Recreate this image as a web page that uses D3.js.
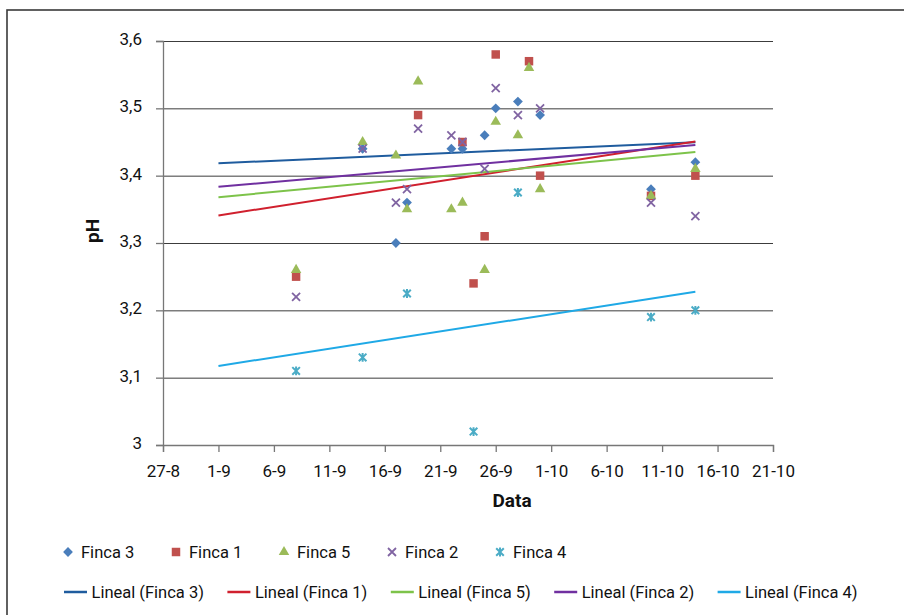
<!DOCTYPE html>
<html>
<head>
<meta charset="utf-8">
<script src="https://cdn.jsdelivr.net/npm/d3@7"></script>
<style>
  body{margin:0;background:#fff;}
  svg{display:block;}
  text{font-family:'Roboto',sans-serif;fill:#111;}
</style>
</head>
<body>
<div id="chart"></div>
<script>
// Scatter of pH per farm with linear trend lines
const xTickLabels = ['27-8','1-9','6-9','11-9','16-9','21-9','26-9','1-10','6-10','11-10','16-10','21-10'];
const yTicks = [3.0,3.1,3.2,3.3,3.4,3.5,3.6];

const finca3Dates = ['14-9','17-9','18-9','22-9','23-9','25-9','26-9','28-9','30-9','10-10','14-10'];
const finca3 = [3.44,3.30,3.36,3.44,3.44,3.46,3.50,3.51,3.49,3.38,3.42];
const finca1Dates = ['8-9','19-9','23-9','24-9','25-9','26-9','29-9','30-9','10-10','14-10'];
const finca1 = [3.25,3.49,3.45,3.24,3.31,3.58,3.57,3.40,3.37,3.40];
const finca5Dates = ['8-9','14-9','17-9','18-9','19-9','22-9','23-9','25-9','26-9','28-9','29-9','30-9','10-10','14-10'];
const finca5 = [3.26,3.45,3.43,3.35,3.54,3.35,3.36,3.26,3.48,3.46,3.56,3.38,3.37,3.41];
const finca2Dates = ['8-9','14-9','17-9','18-9','19-9','22-9','23-9','25-9','26-9','28-9','30-9','10-10','14-10'];
const finca2 = [3.22,3.44,3.36,3.38,3.47,3.46,3.45,3.41,3.53,3.49,3.50,3.36,3.34];
const finca4Dates = ['8-9','14-9','18-9','24-9','28-9','10-10','14-10'];
const finca4 = [3.11,3.13,3.225,3.02,3.375,3.19,3.20];

// trend lines (Lineal): value at first and last date
const trendDates = ['1-9','14-10'];
const trend3 = [3.4185,3.4497];
const trend1 = [3.341,3.4506];
const trend5 = [3.368,3.435];
const trend2 = [3.3834,3.4457];
const trend4 = [3.1174,3.2276];

(function() {
  const W = 904, H = 615;
  const m = {top:41,left:163,right:131,bottom:170};
  const w = W-m.left-m.right, h = H-m.top-m.bottom;
  const parse = s => { const [d,mo] = s.split('-').map(Number); return new Date(2011,mo-1,d); };

  const series = [
    {name:'Finca 3', dates:finca3Dates, vals:finca3, color:'#4a7ebb', shape:'diamond', trend:trend3, tcolor:'#1f5c9e'},
    {name:'Finca 1', dates:finca1Dates, vals:finca1, color:'#c0504d', shape:'square',  trend:trend1, tcolor:'#d0202e'},
    {name:'Finca 5', dates:finca5Dates, vals:finca5, color:'#9bbb59', shape:'triangle',trend:trend5, tcolor:'#7dc34a'},
    {name:'Finca 2', dates:finca2Dates, vals:finca2, color:'#8064a2', shape:'x',       trend:trend2, tcolor:'#7030a0'},
    {name:'Finca 4', dates:finca4Dates, vals:finca4, color:'#4bacc6', shape:'star',    trend:trend4, tcolor:'#1fa9e6'}
  ];

  const ticks = xTickLabels.map(parse);
  const xSc = d3.scaleTime().domain([ticks[0],ticks[ticks.length-1]]).range([0,w]);
  const ySc = d3.scaleLinear().domain([3.0,3.6]).range([h,0]);
  const fmt = v => d3.format('.1f')(v).replace('.0','').replace('.',',');

  const svg = d3.select('#chart').append('svg').attr('width',W).attr('height',H);

  // outer frame (runs off right/bottom edge)
  svg.append('rect').attr('x',7).attr('y',10).attr('width',W+20).attr('height',H+20)
    .attr('fill','none').attr('stroke','#3a3a3a').attr('stroke-width',1.6);

  const g = svg.append('g').attr('transform',`translate(${m.left},${m.top})`);

  // Grid
  g.append('g').call(d3.axisLeft(ySc).tickValues(yTicks.slice(1)).tickSize(-w).tickFormat(''))
    .call(g=>g.select('.domain').remove())
    .call(g=>g.selectAll('line').style('stroke','#3c3c3c').style('stroke-width','1'));

  // Axes
  const xAx = g.append('g').attr('transform',`translate(0,${h})`)
    .call(d3.axisBottom(xSc).tickValues(ticks).tickSize(7).tickPadding(12).tickFormat((d,i)=>xTickLabels[i]));
  const yAx = g.append('g')
    .call(d3.axisLeft(ySc).tickValues(yTicks).tickSize(7).tickPadding(14).tickFormat(fmt));
  [xAx,yAx].forEach(a=>{
    a.select('.domain').attr('stroke','#777').attr('stroke-width',1.3);
    a.selectAll('.tick line').attr('stroke','#777').attr('stroke-width',1.3);
    a.selectAll('.tick text').style('font-family',"'Roboto',sans-serif")
      .style('font-size','17px').attr('fill','#111');
  });
  yAx.selectAll('.tick text').attr('dy','0.2em');
  xAx.selectAll('.tick text').attr('dy','0.75em');

  g.append('text').attr('x',349).attr('y',h+62).attr('text-anchor','middle')
    .style('font-size','19px').style('font-weight','700').text('Data');
  g.append('text').attr('transform','rotate(-90)').attr('x',-190).attr('y',-64).attr('text-anchor','middle')
    .style('font-size','19px').style('font-weight','700').text('pH');

  // Trend lines
  const lineGen = d3.line().x(d=>xSc(d[0])).y(d=>ySc(d[1]));
  series.forEach(s=>{
    const ld = trendDates.map((d,i)=>[parse(d),s.trend[i]]);
    g.append('path').datum(ld).attr('fill','none').attr('stroke',s.tcolor).attr('stroke-width',2).attr('d',lineGen);
  });

  // markers
  function marker(sel, s) {
    if(s.shape==='diamond'){
      sel.append('path').attr('d',d3.symbol(d3.symbolSquare,48)()).attr('transform','rotate(45)').attr('fill',s.color);
    } else if(s.shape==='square'){
      sel.append('path').attr('d',d3.symbol(d3.symbolSquare,72)()).attr('fill',s.color);
    } else if(s.shape==='triangle'){
      sel.append('path').attr('d',d3.symbol(d3.symbolTriangle,48)()).attr('fill',s.color);
    } else if(s.shape==='x'){
      sel.append('path').attr('d','M-4,-4L4,4M-4,4L4,-4').attr('stroke',s.color).attr('stroke-width',1.8);
    } else {
      sel.append('path').attr('d','M-3.8,-3.8L3.8,3.8M-3.8,3.8L3.8,-3.8M0,-4.4L0,4.4').attr('stroke',s.color).attr('stroke-width',2);
    }
  }
  series.forEach(s=>{
    const pts = s.dates.map((d,i)=>({x:parse(d),y:s.vals[i]}));
    g.append('g').selectAll('g').data(pts).join('g')
      .attr('transform',d=>`translate(${xSc(d.x)},${ySc(d.y)})`)
      .each(function(){ marker(d3.select(this),s); });
  });

  // Legend
  const leg = svg.append('g');
  series.forEach((s,i)=>{
    const row = leg.append('g').attr('transform',`translate(${68+i*108},552)`);
    marker(row,s);
    row.append('text').attr('x',13).attr('y',6).style('font-size','16.5px').text(s.name);
  });
  series.forEach((s,i)=>{
    const row = leg.append('g').attr('transform',`translate(${64+i*163.4},592)`);
    row.append('line').attr('x1',0).attr('x2',23).attr('stroke',s.tcolor).attr('stroke-width',2.5);
    row.append('text').attr('x',27.5).attr('y',6).style('font-size','16.5px').text(`Lineal (${s.name})`);
  });
})();
</script>
</body>
</html>
